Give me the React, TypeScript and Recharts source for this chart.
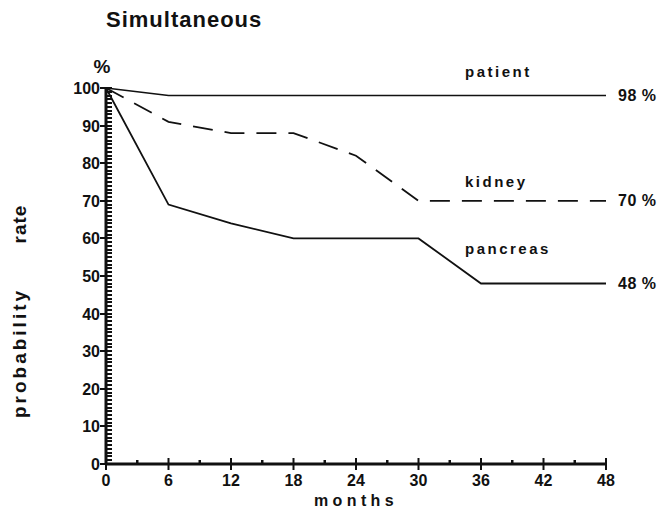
import { LineChart, Line, XAxis, YAxis, LabelList } from "recharts";

const months = [0, 6, 12, 18, 24, 30, 36, 42, 48];
const patient = [100, 98, 98, 98, 98, 98, 98, 98, 98];
const kidney = [100, 91, 88, 88, 82, 70, 70, 70, 70];
const pancreas = [100, 69, 64, 60, 60, 60, 48, 48, 48];

const seriesNames = ["patient", "kidney", "pancreas"];
const endLabels = ["98 %", "70 %", "48 %"];

const yMajor = [0, 10, 20, 30, 40, 50, 60, 70, 80, 90, 100];
const xMajor = [0, 6, 12, 18, 24, 30, 36, 42, 48];
const yTicks = Array.from({ length: 101 }, (_, i) => i);
const xTicks = Array.from({ length: 17 }, (_, i) => i * 3);

const data = months.map((m, i) => ({
  month: m,
  patient: patient[i],
  kidney: kidney[i],
  pancreas: pancreas[i],
}));

const INK = "#111";
const FONT = "'Liberation Sans', Arial, sans-serif";
// where the series name sits relative to the point at 36 months
const nameOffsets = [-19, -14, -30];

const YTick = ({ x, y, payload }: any) => {
  const v = payload.value;
  const major = yMajor.includes(v);
  return (
    <g>
      <line x1={x} x2={x + 6} y1={y} y2={y} stroke={INK} strokeWidth={2} shapeRendering="crispEdges" />
      {major && <line x1={x - 6} x2={x} y1={y} y2={y} stroke={INK} strokeWidth={2} shapeRendering="crispEdges" />}
      {major && (
        <text x={x - 6} y={y + 6} textAnchor="end" fontSize={16} fontWeight="bold" fill={INK} fontFamily={FONT}>
          {v}
        </text>
      )}
    </g>
  );
};

const XTick = ({ x, y, payload }: any) => {
  const v = payload.value;
  const major = xMajor.includes(v);
  return (
    <g>
      {major ? (
        <line x1={x} x2={x} y1={y - 6} y2={y + 6} stroke={INK} strokeWidth={2} />
      ) : (
        <line x1={x} x2={x} y1={y - 4} y2={y} stroke={INK} strokeWidth={2.5} />
      )}
      {major && (
        <text x={x} y={y + 22} textAnchor="middle" fontSize={16} fontWeight="bold" fill={INK} fontFamily={FONT}>
          {v}
        </text>
      )}
    </g>
  );
};

const seriesLabel = (s: number) => (props: any) => {
  const { x, y, index } = props;
  if (index === months.length - 1) {
    return (
      <text x={x + 12} y={y + 5} fontSize={16} fontWeight="bold" fill={INK} fontFamily={FONT} letterSpacing={0.5}>
        {endLabels[s]}
      </text>
    );
  }
  if (index === 6) {
    return (
      <text x={x - 16} y={y + nameOffsets[s]} fontSize={15} fontWeight="bold" fill={INK} fontFamily={FONT} letterSpacing={2.5}>
        {seriesNames[s]}
      </text>
    );
  }
  return null;
};

const AxisTexts = () => (
  <g fontFamily={FONT} fontWeight="bold" fill={INK}>
    <text x={106} y={27} fontSize={22} letterSpacing={1}>
      Simultaneous
    </text>
    <text x={102} y={73} fontSize={19} textAnchor="middle">
      %
    </text>
    <text transform="translate(26,353) rotate(-90)" fontSize={19} textAnchor="middle" letterSpacing={3}>
      probability
    </text>
    <text transform="translate(26,224) rotate(-90)" fontSize={19} textAnchor="middle" letterSpacing={1}>
      rate
    </text>
  </g>
);

export default function App() {
  return (
    <div style={{ position: "absolute", left: 0, top: 0, width: 660, height: 514, background: "#fff" }}>
      <LineChart width={660} height={514} data={data} margin={{ top: 88, right: 54, bottom: 20, left: 66 }}>
        <XAxis
          dataKey="month"
          type="number"
          domain={[0, 48]}
          ticks={xTicks}
          interval={0}
          tickSize={0}
          tickMargin={0}
          tick={XTick}
          axisLine={{ stroke: INK, strokeWidth: 3 }}
          height={30}
          label={{
            content: ({ viewBox }: any) => (
              <text
                x={viewBox.x + viewBox.width / 2}
                y={506}
                textAnchor="middle"
                fontSize={16}
                fontWeight="bold"
                fill={INK}
                fontFamily={FONT}
                letterSpacing={4.4}
              >
                months
              </text>
            ),
          }}
        />
        <YAxis
          type="number"
          domain={[0, 100]}
          ticks={yTicks}
          interval={0}
          tickSize={0}
          tickMargin={0}
          tick={YTick}
          axisLine={{ stroke: INK, strokeWidth: 3 }}
          width={40}
          label={{ content: () => <AxisTexts /> }}
        />
        <Line dataKey="patient" type="linear" stroke={INK} strokeWidth={1.6} dot={false} isAnimationActive={false}>
          <LabelList content={seriesLabel(0)} />
        </Line>
        <Line
          dataKey="kidney"
          type="linear"
          stroke={INK}
          strokeWidth={1.8}
          strokeDasharray="20 12"
          dot={false}
          isAnimationActive={false}
        >
          <LabelList content={seriesLabel(1)} />
        </Line>
        <Line dataKey="pancreas" type="linear" stroke={INK} strokeWidth={1.8} dot={false} isAnimationActive={false}>
          <LabelList content={seriesLabel(2)} />
        </Line>
      </LineChart>
    </div>
  );
}
